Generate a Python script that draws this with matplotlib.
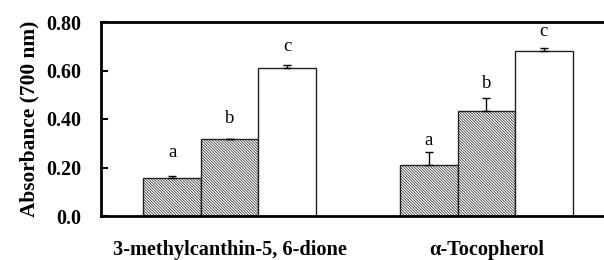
import matplotlib
matplotlib.use("Agg")
import matplotlib.pyplot as plt
import numpy as np

plt.rcParams['font.family'] = ['Liberation Serif', 'DejaVu Serif']
plt.rcParams['hatch.linewidth'] = 0.5
plt.rcParams['hatch.color'] = '#555555'

groups = ['3-methylcanthin-5, 6-dione', 'α-Tocopherol']
low = [0.158, 0.212]
mid = [0.316, 0.434]
high = [0.612, 0.682]
low_err = [0.008, 0.053]
mid_err = [0.002, 0.054]
high_err = [0.010, 0.011]
letters = ['a', 'b', 'c']
yticks = [0.0, 0.2, 0.4, 0.6, 0.8]
yticklabels = ['0.0', '0.20', '0.40', '0.60', '0.80']

W, H = 604, 260
fig = plt.figure(figsize=(W/100, H/100), dpi=100)
left, right, bottom, top = 101, 615, 216, 22
ax = fig.add_axes([left/W, 1 - bottom/H, (right-left)/W, (bottom-top)/H])

spacing = 4.47
x = np.arange(len(groups)) * spacing
bw = 1.0
dense = '\\' * 12
series = [(low, low_err, dense), (mid, mid_err, dense), (high, high_err, '')]
gaps = [[15, 3], [12, 6], [10, 8]]
for i, (vals, errs, hatch) in enumerate(series):
    pos = x + (i - 1) * bw
    ax.bar(pos, vals, width=bw, color='white', edgecolor='#222222', linewidth=1.0, hatch=hatch, zorder=2)
    ax.errorbar(pos, vals, yerr=[np.zeros(len(vals)), errs], fmt='none', ecolor='black',
                elinewidth=1.0, capsize=3, capthick=1.0, zorder=3)
    for j in range(len(vals)):
        ax.annotate(letters[i], (pos[j], vals[j] + errs[j]), xytext=(0, gaps[i][j] * 0.72),
                    textcoords='offset points', ha='center', va='bottom', fontsize=13.5)

ax.set_xlim(x[0] - 2.24, x[-1] + 2.24)
ax.set_ylim(0, 0.8)
ax.set_yticks(yticks)
ax.set_yticklabels(yticklabels, fontsize=14.5, fontweight='bold')
ax.set_xticks(x)
ax.set_xticklabels(groups, fontsize=14.6, fontweight='bold')
ax.tick_params(axis='x', length=0, pad=17)
ax.tick_params(axis='y', direction='in', length=5, width=1.5, pad=14)
ax.set_ylabel('Absorbance (700 nm)', fontsize=15.4, fontweight='bold', labelpad=5)
for s in ['left', 'bottom', 'top']:
    ax.spines[s].set_linewidth(2.0)
ax.spines['right'].set_visible(False)

fig.savefig('out.png', dpi=100)
